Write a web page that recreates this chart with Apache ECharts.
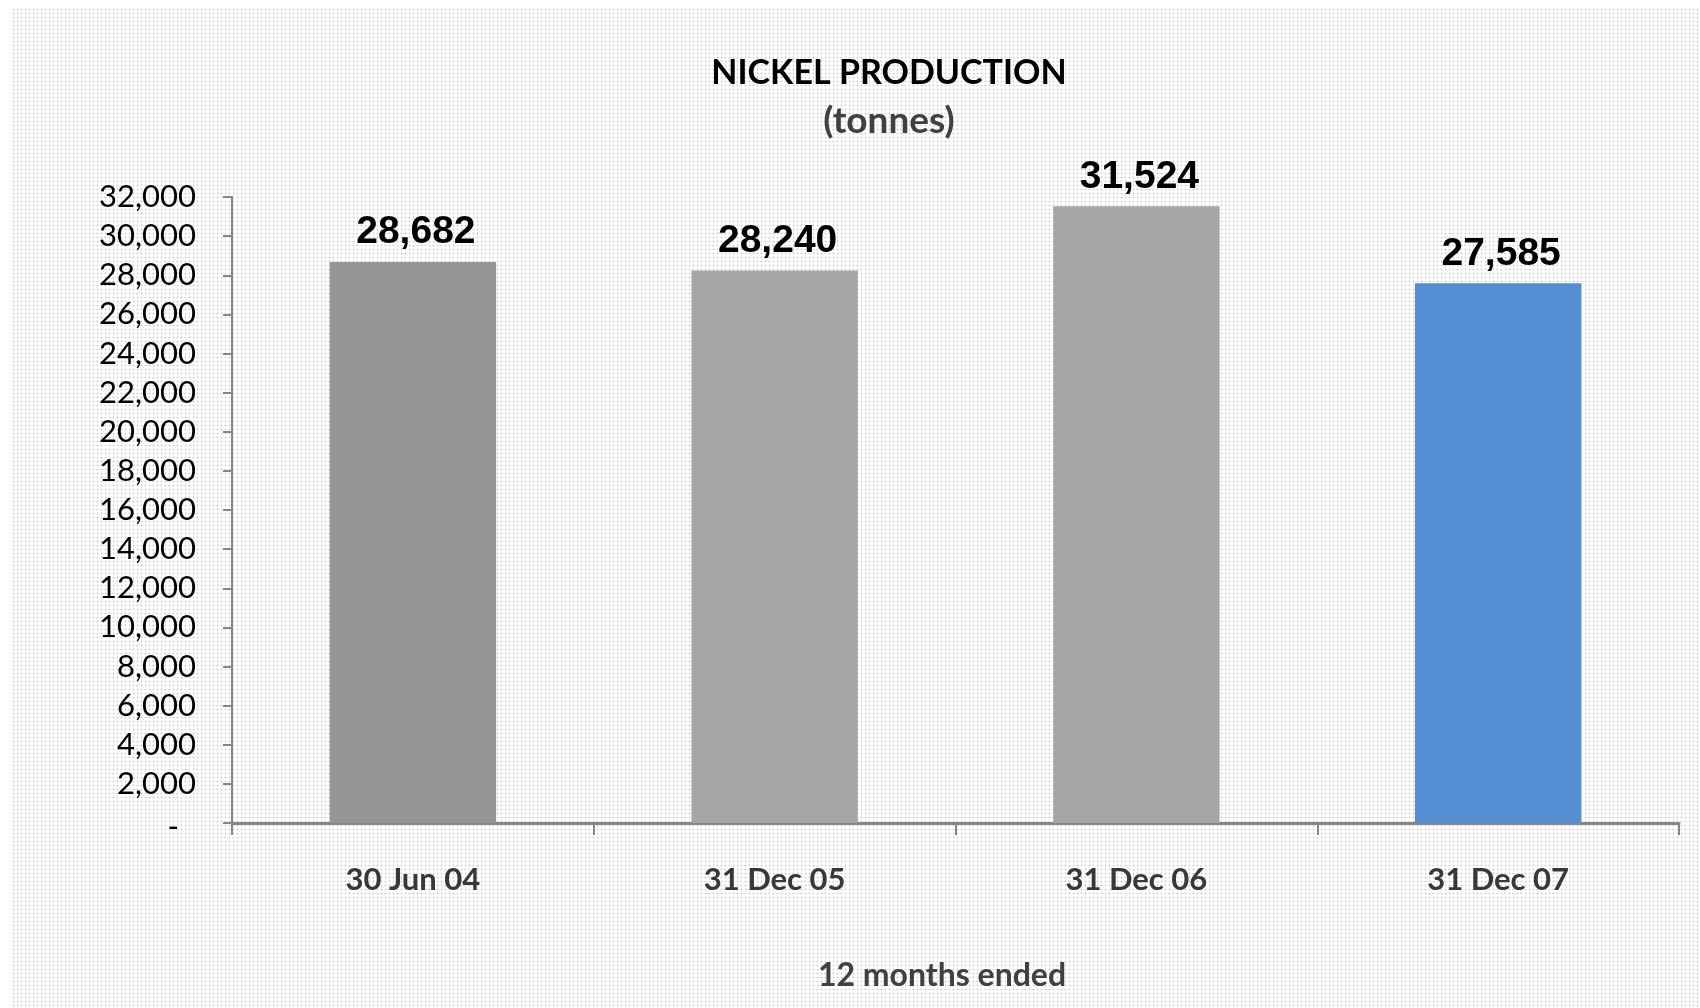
<!DOCTYPE html>
<html>
<head>
<meta charset="utf-8">
<script src="https://cdn.jsdelivr.net/npm/echarts@6/dist/echarts.min.js"></script>
<style>
html,body{margin:0;padding:0;background:#fff;}
#chart{width:1700px;height:1008px;}
</style>
</head>
<body>
<div id="chart"></div>
<script>
var categories = ['30 Jun 04', '31 Dec 05', '31 Dec 06', '31 Dec 07'];
var production = [28682, 28240, 31524, 27585];
var barColors = ['#969696', '#a6a6a6', '#a6a6a6', '#558ed5'];
var titleText = 'NICKEL PRODUCTION';
var subtitleText = '(tonnes)';
var xAxisTitle = '12 months ended';

// dotted background tile
var tile = document.createElement('canvas');
tile.width = 4; tile.height = 4;
var tc = tile.getContext('2d');
tc.fillStyle = '#ffffff'; tc.fillRect(0, 0, 4, 4);
tc.fillStyle = '#ededed';
tc.fillRect(0, 1, 3, 1); tc.fillRect(1, 0, 1, 3);
tc.fillStyle = '#c8c8c8'; tc.fillRect(1, 1, 1, 1);

var chart = echarts.init(document.getElementById('chart'), null, {renderer: 'canvas'});
var fmt = function (v) { return Number(v).toLocaleString('en-US'); };

chart.setOption({
  animation: false,
  backgroundColor: '#ffffff',
  grid: {left: 232, right: 21, top: 197, bottom: 185, containLabel: false},
  graphic: [
    {type: 'rect', z: -10, silent: true, shape: {x: 12, y: 7, width: 1688, height: 1001},
     style: {fill: {image: tile, repeat: 'repeat'}}},
    {type: 'text', x: 889, y: 73, style: {text: titleText, textAlign: 'center', textVerticalAlign: 'middle',
      font: 'bold 34px Lato', fill: '#000000'}},
    {type: 'text', x: 889, y: 121, style: {text: subtitleText, textAlign: 'center', textVerticalAlign: 'middle',
      font: 'bold 37px Lato', fill: '#404040'}},
    {type: 'text', x: 942, y: 976, style: {text: xAxisTitle, textAlign: 'center', textVerticalAlign: 'middle',
      font: 'bold 32px Lato', fill: '#404040'}}
  ],
  xAxis: {
    type: 'category',
    data: categories,
    boundaryGap: true,
    axisLine: {show: true, lineStyle: {color: '#868686', width: 3}},
    axisTick: {show: true, alignWithLabel: false, length: 12, lineStyle: {color: '#868686', width: 2}},
    axisLabel: {margin: 41, fontFamily: 'Lato', fontWeight: 'bold', fontSize: 31, color: '#383838'},
    splitLine: {show: false}
  },
  yAxis: {
    type: 'value',
    min: 0, max: 32000, interval: 2000,
    axisLine: {show: true, lineStyle: {color: '#868686', width: 2}},
    axisTick: {show: true, length: 9, lineStyle: {color: '#868686', width: 2}},
    axisLabel: {
      margin: 36, fontFamily: 'Lato', fontSize: 31, color: '#000000',
      formatter: function (v) { return v === 0 ? '{z|-}' : fmt(v); },
      rich: {z: {fontFamily: 'Lato', fontSize: 31, color: '#000000', padding: [8, 17, 0, 0]}}
    },
    splitLine: {show: false}
  },
  series: [{
    type: 'bar',
    barWidth: '46%',
    data: production.map(function (v, i) { return {value: v, itemStyle: {color: barColors[i]}}; }),
    label: {
      show: true, position: 'top', distance: 10, offset: [3, 0],
      fontFamily: 'Liberation Sans', fontWeight: 'bold', fontSize: 39, color: '#000000',
      formatter: function (p) { return fmt(p.value); }
    }
  }]
});
</script>
</body>
</html>
